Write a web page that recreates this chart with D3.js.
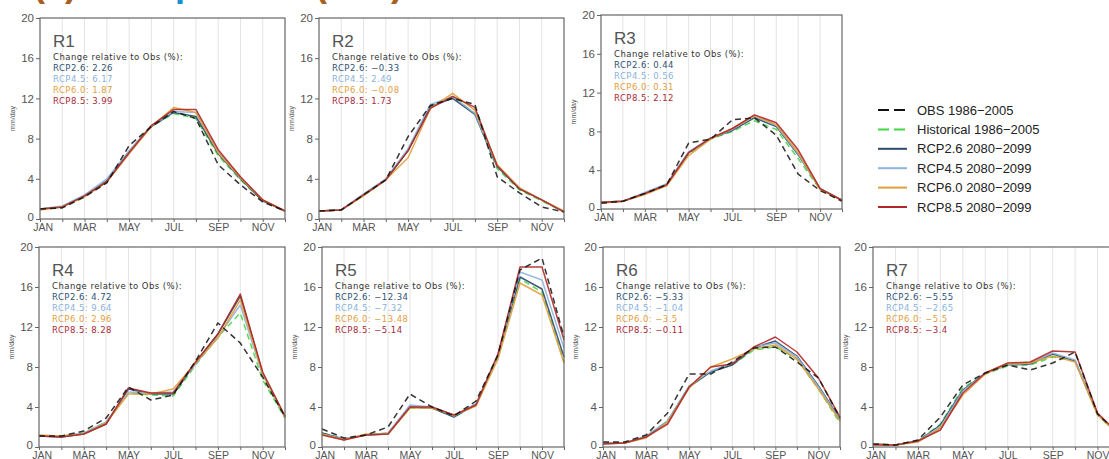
<!DOCTYPE html>
<html>
<head>
<meta charset="utf-8">
<script src="https://cdn.jsdelivr.net/npm/d3@7"></script>
<style>
  body { margin: 0; background: #fff; }
  svg { display: block; }
  text { font-family: "Liberation Sans", "DejaVu Sans", sans-serif; }
</style>
</head>
<body>
<div id="main"></div>
<script>
const width = 1109;
const height = 459;

const months = ["JAN", "FEB", "MAR", "APR", "MAY", "JUN", "JUL", "AUG", "SEP", "OCT", "NOV", "DEC"];
const regions = ["R1", "R2", "R3", "R4", "R5", "R6", "R7"];
const yTicks = [0, 4, 8, 12, 16, 20];

// monthly precipitation (mm/day), one row per region
const obsData = [
  [1.0, 1.1, 2.2, 3.6, 7.3, 9.2, 10.7, 10.0, 5.4, 3.4, 1.7, 0.8],
  [0.8, 0.9, 2.4, 3.9, 8.2, 11.3, 12.0, 11.4, 4.2, 2.6, 1.2, 0.7],
  [0.6, 0.8, 1.6, 2.5, 6.8, 7.2, 9.2, 9.4, 7.6, 3.6, 1.9, 0.8],
  [1.1, 1.1, 1.6, 2.9, 6.0, 4.7, 5.2, 8.6, 12.4, 10.4, 7.0, 3.0],
  [1.8, 0.9, 1.2, 2.0, 5.3, 4.0, 3.1, 4.6, 9.2, 17.7, 18.9, 11.0],
  [0.5, 0.5, 1.2, 3.4, 7.3, 7.3, 8.5, 9.9, 10.0, 8.5, 6.9, 2.9],
  [0.3, 0.2, 0.7, 3.0, 6.2, 7.4, 8.2, 7.7, 8.4, 9.5, 3.3, 1.2]
];
const histData = [
  [1.0, 1.2, 2.2, 3.7, 6.7, 9.2, 10.5, 10.0, 6.3, 3.9, 1.8, 0.8],
  [0.8, 0.9, 2.4, 3.9, 6.8, 11.2, 12.1, 10.5, 5.0, 2.9, 1.8, 0.7],
  [0.7, 0.8, 1.6, 2.5, 5.7, 7.2, 8.0, 9.1, 8.2, 5.2, 2.0, 0.9],
  [1.1, 1.1, 1.4, 2.5, 5.4, 5.2, 5.1, 8.2, 11.0, 13.4, 6.7, 2.9],
  [1.4, 0.8, 1.2, 1.4, 3.9, 3.9, 3.0, 4.2, 9.0, 16.8, 15.5, 8.5],
  [0.4, 0.4, 1.1, 2.6, 6.1, 7.6, 8.2, 9.7, 10.0, 8.8, 5.8, 2.4],
  [0.3, 0.2, 0.6, 2.3, 5.9, 7.3, 8.1, 8.2, 9.0, 8.6, 3.2, 1.1]
];
const rcp26Data = [
  [1.0, 1.2, 2.3, 3.8, 6.7, 9.2, 10.6, 10.2, 6.5, 4.0, 1.8, 0.8],
  [0.8, 0.9, 2.4, 3.9, 6.8, 11.2, 12.0, 10.4, 5.2, 3.0, 1.9, 0.7],
  [0.7, 0.8, 1.6, 2.5, 5.8, 7.3, 8.1, 9.4, 8.5, 5.6, 2.1, 0.9],
  [1.1, 1.0, 1.3, 2.3, 5.8, 5.3, 5.3, 8.4, 11.3, 15.1, 7.4, 3.0],
  [1.4, 0.8, 1.2, 1.3, 4.0, 3.9, 3.0, 4.3, 9.2, 17.0, 15.8, 9.0],
  [0.4, 0.4, 1.0, 2.6, 6.0, 7.5, 8.2, 9.9, 10.6, 9.1, 6.1, 2.8],
  [0.3, 0.2, 0.6, 2.2, 5.7, 7.4, 8.2, 8.3, 9.3, 8.6, 3.3, 1.1]
];
const rcp45Data = [
  [1.0, 1.3, 2.4, 4.0, 6.8, 9.3, 10.7, 10.6, 6.7, 4.1, 1.9, 0.8],
  [0.8, 0.9, 2.5, 4.0, 7.0, 11.4, 12.2, 10.5, 5.3, 3.1, 1.9, 0.7],
  [0.7, 0.8, 1.7, 2.6, 5.9, 7.3, 8.2, 9.6, 8.6, 5.7, 2.1, 0.9],
  [1.1, 1.1, 1.4, 2.5, 5.5, 5.4, 5.5, 8.3, 11.0, 14.2, 7.2, 3.0],
  [1.3, 0.8, 1.2, 1.4, 4.2, 4.0, 3.1, 4.3, 9.2, 17.5, 16.7, 9.9],
  [0.4, 0.4, 1.1, 2.6, 6.1, 7.6, 8.4, 10.0, 10.4, 9.0, 6.0, 2.7],
  [0.3, 0.2, 0.6, 2.0, 5.6, 7.4, 8.2, 8.4, 9.4, 8.7, 3.3, 1.1]
];
const rcp60Data = [
  [0.9, 1.2, 2.2, 3.7, 6.5, 9.2, 11.1, 10.6, 6.6, 4.1, 1.9, 0.8],
  [0.8, 0.9, 2.3, 3.9, 6.1, 11.0, 12.5, 10.8, 5.4, 3.1, 1.9, 0.8],
  [0.6, 0.8, 1.5, 2.4, 5.5, 7.2, 8.3, 9.6, 8.7, 5.8, 2.0, 0.9],
  [1.2, 1.1, 1.3, 2.4, 5.3, 5.3, 5.8, 8.4, 10.9, 14.7, 7.3, 3.0],
  [1.3, 0.7, 1.3, 1.3, 3.9, 3.9, 3.2, 4.1, 8.8, 16.4, 15.2, 8.4],
  [0.3, 0.4, 0.9, 2.5, 5.9, 8.0, 8.8, 9.8, 10.2, 8.8, 5.8, 2.6],
  [0.3, 0.2, 0.5, 1.9, 5.2, 7.3, 8.3, 8.4, 9.1, 8.5, 3.2, 1.1]
];
const rcp85Data = [
  [1.0, 1.2, 2.3, 3.7, 6.6, 9.3, 10.9, 10.9, 6.9, 4.2, 1.9, 0.8],
  [0.8, 0.9, 2.4, 3.9, 6.8, 11.0, 12.2, 11.1, 5.3, 3.0, 1.9, 0.7],
  [0.7, 0.8, 1.6, 2.5, 5.8, 7.3, 8.3, 9.7, 8.9, 6.1, 2.1, 0.9],
  [1.1, 1.0, 1.3, 2.3, 5.9, 5.4, 5.4, 8.5, 11.3, 15.3, 7.5, 3.1],
  [1.2, 0.7, 1.2, 1.3, 4.0, 4.0, 3.2, 4.2, 9.3, 18.0, 18.0, 10.7],
  [0.3, 0.4, 1.0, 2.3, 6.0, 8.0, 8.3, 10.0, 11.0, 9.5, 6.9, 3.0],
  [0.2, 0.2, 0.6, 1.7, 5.4, 7.4, 8.4, 8.5, 9.6, 9.5, 3.4, 1.2]
];

// change relative to Obs (%)
const change26 = [2.26, -0.33, 0.44, 4.72, -12.34, -5.33, -5.55];
const change45 = [6.17, 2.49, 0.56, 9.64, -7.32, -1.04, -2.65];
const change60 = [1.87, -0.08, 0.31, 2.96, -13.48, -3.5, -5.5];
const change85 = [3.99, 1.73, 2.12, 8.28, -5.14, -0.11, -3.4];

const seriesNames = ["OBS 1986\u22122005", "Historical 1986\u22122005", "RCP2.6 2080\u22122099",
  "RCP4.5 2080\u22122099", "RCP6.0 2080\u22122099", "RCP8.5 2080\u22122099"];
const rcpLabels = ["RCP2.6", "RCP4.5", "RCP6.0", "RCP8.5"];

const colors = ["#111111", "#45d845", "#2b4a6b", "#8db4db", "#e0a03a", "#b02828"];
const textColors = ["#2f5274", "#8ab2dc", "#e2a040", "#a8283a"];

// panel boxes: left, top, width, height
const boxes = [
  [40, 18, 245, 201],
  [319, 18, 245, 201],
  [601, 15, 241, 194],
  [39, 247, 246, 200],
  [322, 247, 242, 200],
  [603, 247, 237, 200],
  [873, 247, 247, 200]
];

const svg = d3.select("#main")
  .append("svg")
  .attr("width", width)
  .attr("height", height);

// title, mostly cut off at the top of the picture
const title = svg.append("text")
  .attr("x", 33)
  .attr("y", -4)
  .style("font-size", "36px")
  .style("font-weight", "bold");
title.append("tspan").attr("fill", "#a8601e").text("(c) ");
title.append("tspan").attr("fill", "#1a8fd2").text("Precipitation ");
title.append("tspan").attr("fill", "#a8601e").text("(mm)");

const fmt = (v) => String(v).replace("-", "\u2212");

regions.forEach((name, r) => {
  const [bx, by, bw, bh] = boxes[r];
  const g = svg.append("g").attr("transform", "translate(" + bx + "," + by + ")");

  const x = d3.scaleLinear().domain([0, 11]).range([0, bw]);
  const y = d3.scaleLinear().domain([0, 20]).range([bh, 0]);

  // vertical month grid
  g.selectAll(".grid")
    .data(d3.range(1, 11))
    .enter()
    .append("line")
    .attr("x1", (d) => x(d))
    .attr("x2", (d) => x(d))
    .attr("y1", 0)
    .attr("y2", bh)
    .attr("stroke", "#e4e4e4")
    .attr("stroke-width", 1);

  const yAxis = d3.axisLeft(y).tickValues(yTicks).tickSize(4).tickPadding(2);
  const yg = g.append("g").call(yAxis);
  yg.select(".domain").remove();
  yg.selectAll("line").attr("stroke", "#666");
  yg.selectAll("text")
    .attr("fill", "#555")
    .style("font-size", "11.5px")
    .attr("dy", (d) => (d === 0 ? "0.1em" : "0.32em"));

  const xAxis = d3.axisBottom(x)
    .tickValues(d3.range(12))
    .tickFormat((i) => (i % 2 === 0 ? months[i] : ""))
    .tickSize(3)
    .tickPadding(2);
  const xg = g.append("g").attr("transform", "translate(0," + bh + ")").call(xAxis);
  xg.select(".domain").remove();
  xg.selectAll("line").attr("stroke", "#666");
  xg.selectAll("text")
    .attr("fill", "#555")
    .style("font-size", "10.5px")
    .attr("dx", (d) => (d === 0 ? "0.25em" : 0));

  g.append("text")
    .attr("transform", "translate(-25," + bh / 2 + ") rotate(-90)")
    .attr("text-anchor", "middle")
    .attr("fill", "#555")
    .style("font-size", "7px")
    .text("mm/day");

  const line = d3.line()
    .x((d, i) => x(i))
    .y((d) => y(d));

  const series = [histData[r], rcp26Data[r], rcp45Data[r], rcp60Data[r], rcp85Data[r], obsData[r]];
  const sColors = [colors[1], colors[2], colors[3], colors[4], colors[5], colors[0]];
  const dashed = [true, false, false, false, false, true];
  series.forEach((vals, k) => {
    g.append("path")
      .datum(vals)
      .attr("d", line)
      .attr("fill", "none")
      .attr("stroke", sColors[k])
      .attr("stroke-width", 1.5)
      .attr("stroke-linejoin", "round")
      .attr("stroke-dasharray", dashed[k] ? "6,4" : null)
      .attr("opacity", k === 5 ? 0.85 : 0.9);
  });

  g.append("rect")
    .attr("width", bw)
    .attr("height", bh)
    .attr("fill", "none")
    .attr("stroke", "#666")
    .attr("stroke-width", 1.2);

  g.append("text")
    .attr("x", 13)
    .attr("y", 29)
    .attr("fill", "#555")
    .style("font-size", "17px")
    .text(name);

  g.append("text")
    .attr("x", 13)
    .attr("y", 42)
    .attr("fill", "#333")
    .style("font-family", "DejaVu Sans")
    .style("font-size", "8.5px")
    .style("letter-spacing", "0.45px")
    .text("Change relative to Obs (%):");

  const changes = [change26[r], change45[r], change60[r], change85[r]];
  changes.forEach((v, k) => {
    g.append("text")
      .attr("x", 13)
      .attr("y", 52.5 + k * 11)
      .attr("fill", textColors[k])
      .style("font-family", "DejaVu Sans")
      .style("font-size", "8.5px")
      .style("letter-spacing", "0.45px")
      .text(rcpLabels[k] + ": " + fmt(v));
  });
});

// legend
const legend = svg.append("g").attr("transform", "translate(878,110)");
seriesNames.forEach((s, i) => {
  const row = legend.append("g").attr("transform", "translate(0," + i * 19.4 + ")");
  row.append("line")
    .attr("x1", 0)
    .attr("x2", 29)
    .attr("stroke", colors[i])
    .attr("stroke-width", 2)
    .attr("stroke-dasharray", i < 2 ? "11,5" : null);
  row.append("text")
    .attr("x", 39)
    .attr("y", 4.5)
    .attr("fill", "#222")
    .style("font-size", "13px")
    .text(s);
});
</script>
</body>
</html>
